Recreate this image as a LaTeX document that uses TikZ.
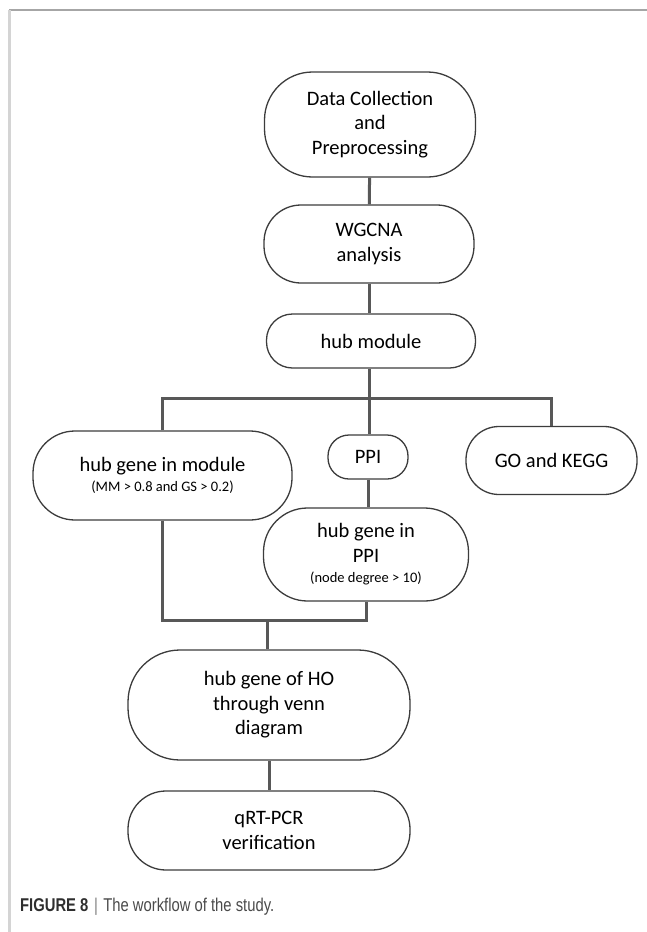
\documentclass[tikz,border=0pt]{standalone}
\usepackage{fontspec}
\setmainfont{Carlito}
\newfontfamily\capfont[FakeStretch=0.8]{Liberation Sans}
\usepackage{xcolor}
\definecolor{boxline}{HTML}{3C3C3C}
\definecolor{connline}{HTML}{585858}
\definecolor{framegray}{HTML}{A6A6A6}
\definecolor{frameleft}{HTML}{D4D4D4}
\definecolor{captext}{HTML}{2E2E2E}
\definecolor{capsoft}{HTML}{4A4A4A}
\usetikzlibrary{positioning, calc}
\newcommand{\subnote}[1]{{\fontsize{14.5}{17}\selectfont #1}}

\begin{document}
\begin{tikzpicture}[x=1pt, y=-1pt]
    \tikzstyle{stage}=[draw=boxline, fill=white, line width=1.3pt, align=center, inner sep=0pt,
                       font=\fontsize{20.5}{24.5}\selectfont, text=black]
    \tikzstyle{link}=[line width=3pt, color=connline]

    \useasboundingbox (0,0) rectangle (647,932);
    % frame of the figure panel
    \draw[framegray, line width=1.6pt] (9,10) -- (647,10);
    \draw[frameleft, line width=2.2pt] (9.5,10) -- (9.5,932);

    \node[stage, minimum width=211pt, minimum height=105pt, rounded corners=48pt] (data)    at (370,124.5) {Data Collection\\and\\Preprocessing};
    \node[stage, minimum width=210pt, minimum height=78pt,  rounded corners=37pt] (wgcna)   at (369,244)   {WGCNA\\analysis};
    \node[stage, minimum width=209pt, minimum height=54pt,  rounded corners=26pt] (hubmod)  at (371,341)   {hub module};
    \node[stage, minimum width=259pt, minimum height=89pt,  rounded corners=42pt] (genemod) at (162.5,475.5) {hub gene in module\\[-4pt]\subnote{(MM > 0.8 and GS > 0.2)}};
    \node[stage, minimum width=80pt,  minimum height=44pt,  rounded corners=21pt] (ppi)     at (368,457)   {PPI};
    \node[stage, minimum width=171pt, minimum height=68pt,  rounded corners=33pt] (gokegg)  at (551.5,460.5) {GO and KEGG};
    \node[stage, minimum width=205pt, minimum height=93pt,  rounded corners=44pt] (geneppi) at (366,554.5) {hub gene in\\PPI\\[-4pt]\subnote{(node degree > 10)}};
    \node[stage, minimum width=282pt, minimum height=110pt, rounded corners=52pt] (venn)    at (269,705)   {hub gene of HO\\through venn\\diagram};
    \node[stage, minimum width=282pt, minimum height=79pt,  rounded corners=38pt] (qrt)     at (269,830.5) {qRT-PCR\\verification};

    \coordinate (split) at (369,398);
    \coordinate (join)  at (267,620.5);

    \draw[link] (data) -- (wgcna);
    \draw[link] (wgcna) -- (wgcna |- hubmod.north);
    \draw[link] (split |- hubmod.south) -- (split);
    \draw[link] (genemod.north) |- (split) -| (gokegg.north);
    \draw[link] (split) -- (split |- ppi.north);
    \draw[link] (ppi) -- (ppi |- geneppi.north);
    \draw[link] (genemod.south) |- (join) -| (geneppi.south);
    \draw[link] (join) -- (join |- venn.north);
    \draw[link] (venn) -- (qrt);

    \node[anchor=base west, inner sep=0pt, font=\capfont\fontsize{18.5}{20}\selectfont, text=capsoft] (caption) at (20,911)
        {\textcolor{captext}{\bfseries FIGURE 8}\hspace{0.3em}\textcolor{gray}{|}\hspace{0.3em}The workflow of the study.};
\end{tikzpicture}
\end{document}
